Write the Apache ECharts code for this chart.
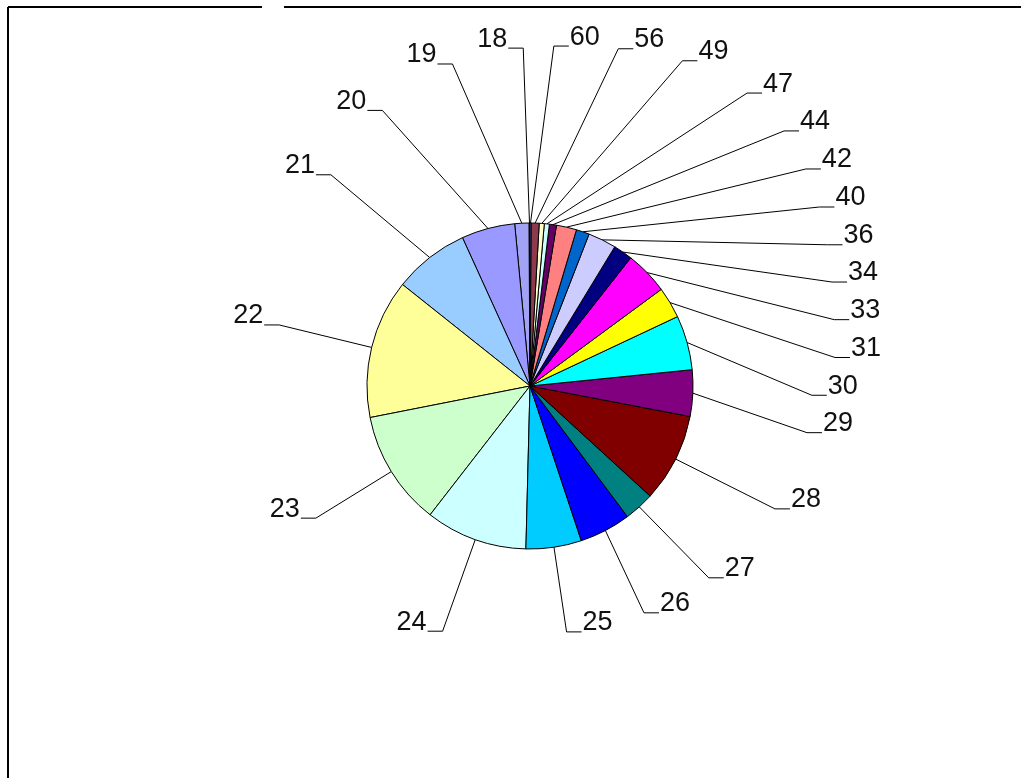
<!DOCTYPE html>
<html>
<head>
<meta charset="utf-8">
<script src="https://cdn.jsdelivr.net/npm/echarts@6/dist/echarts.min.js"></script>
<style>
  html, body { margin: 0; padding: 0; background: #fff; }
  #chart { width: 1021px; height: 778px; }
</style>
</head>
<body>
<div id="chart"></div>
<script>
// Categories (ages) in data order; drawn counter-clockwise from 12 o'clock
var categories = ['18','19','20','21','22','23','24','25','26','27','28','29','30','31','33','34','36','40','42','44','47','49','56','60'];
// Share of each category (%)
var values = [0.1, 1.4, 5.3, 7.5, 13.8, 11.4, 10.1, 5.5, 5.1, 3.0, 8.8, 4.6, 5.4, 3.1, 4.3, 1.9, 2.8, 1.3, 2.0, 0.7, 0.5, 0.5, 0.8, 0.1];
// Slice colours
var colors = ['#993366','#A3A3F5','#9999FF','#99CCFF','#FFFF99','#CCFFCC','#CCFFFF','#00CCFF','#0000FF','#008080','#800000','#800080','#00FFFF','#FFFF00','#FF00FF','#000080','#CCCCFF','#0066CC','#FF8080','#660066','#CCFFFF','#FFFFCC','#8E3A4E','#9999FF'];

// ---- pie geometry (layout settings) ----
var CX = 530, CY = 386, R = 163;
var FONT = 27, FONT_FAMILY = '"Liberation Sans", Arial, sans-serif';
var LEN2 = 15;

var ctx = document.createElement('canvas').getContext('2d');
ctx.font = FONT + 'px ' + FONT_FAMILY;
function textW(s) { return ctx.measureText(s).width; }

// label boundary: per quadrant semi-axes and exponent (superellipse)
function boundary(phi) {
  var s = Math.sin(phi), c = -Math.cos(phi);
  var a, b, n;
  if (s >= 0 && c < 0) { a = 305; b = 340; n = 3; }       // upper right
  else if (s >= 0) { a = 282; b = 248; n = 2; }           // lower right
  else if (c >= 0) { a = 248; b = 262; n = 2; }           // lower left
  else { a = 255; b = 338; n = 2; }                       // upper left
  var t = Math.pow(Math.pow(Math.abs(s / a), n) + Math.pow(Math.abs(c / b), n), -1 / n);
  return [CX + t * s, CY + t * c];
}

// mid angle of each slice, clockwise from 12 o'clock (radians, -pi..pi)
var total = values.reduce(function (a, b) { return a + b; }, 0);
var mids = [], cum = 0;
values.forEach(function (v) {
  var deg = -(cum + v / 2) * 360 / total;
  if (deg <= -180) deg += 360;
  mids.push(deg * Math.PI / 180);
  cum += v;
});

// spread labels along the boundary so that they do not collide
var side = mids.map(function (m) { return m >= 0 ? 1 : -1; });
var ang = mids.slice();
function box(i) {
  var p = boundary(ang[i]);
  var w = textW(categories[i]);
  var padx = side[i] > 0 ? 17 : 20;
  var halfh = side[i] > 0 ? 18.6 : 32;
  var x0 = side[i] > 0 ? p[0] + LEN2 : p[0] - LEN2 - w;
  return { x0: x0 - padx, x1: x0 + w + padx, y0: p[1] - 9 - halfh, y1: p[1] - 9 + halfh };
}
function overlap(a, b) { return a.x0 < b.x1 && b.x0 < a.x1 && a.y0 < b.y1 && b.y0 < a.y1; }
[1, -1].forEach(function (sd) {
  var idx = [];
  for (var i = 0; i < ang.length; i++) if (side[i] === sd) idx.push(i);
  idx.sort(function (p, q) { return ang[p] - ang[q]; });
  var step = 0.003;
  for (var it = 0; it < 5000; it++) {
    var moved = false;
    for (var k = 0; k < idx.length - 1; k++) {
      var i1 = idx[k], i2 = idx[k + 1];
      if (overlap(box(i1), box(i2))) {
        ang[i1] -= step; ang[i2] += step; moved = true;
      }
    }
    idx.forEach(function (i) {
      if (sd > 0) ang[i] = Math.min(Math.max(ang[i], 0.07), Math.PI - 0.01);
      else ang[i] = Math.max(Math.min(ang[i], -0.02), -Math.PI + 0.01);
    });
    if (!moved) break;
  }
});

var chart = echarts.init(document.getElementById('chart'));
var data = categories.map(function (c, i) {
  return { name: c, value: values[i], itemStyle: { color: colors[i] } };
});

chart.setOption({
  backgroundColor: '#ffffff',
  animation: false,
  graphic: [
    { type: 'line', shape: { x1: 8, y1: 7, x2: 262, y2: 7 }, style: { stroke: '#000', lineWidth: 2 } },
    { type: 'line', shape: { x1: 284, y1: 7, x2: 1021, y2: 7 }, style: { stroke: '#000', lineWidth: 2 } },
    { type: 'line', shape: { x1: 8, y1: 7, x2: 8, y2: 778 }, style: { stroke: '#000', lineWidth: 2 } }
  ],
  series: [{
    type: 'pie',
    center: [CX, CY],
    radius: R,
    startAngle: 90,
    clockwise: false,
    avoidLabelOverlap: false,
    data: data,
    itemStyle: { borderColor: '#000', borderWidth: 1 },
    label: {
      show: true,
      position: 'outside',
      formatter: '{b}',
      fontFamily: FONT_FAMILY,
      fontSize: FONT,
      color: '#111'
    },
    labelLine: {
      show: true,
      length: 60,
      length2: LEN2,
      lineStyle: { color: '#000', width: 1 }
    },
    labelLayout: function (params) {
      var i = params.dataIndex;
      var p = boundary(ang[i]);
      var e = [CX + R * Math.sin(mids[i]), CY - R * Math.cos(mids[i])];
      var endX = p[0] + side[i] * LEN2;
      return {
        x: endX + side[i] * 1,
        y: p[1] - 9,
        align: side[i] > 0 ? 'left' : 'right',
        verticalAlign: 'middle',
        labelLinePoints: [e, p, [endX, p[1]]]
      };
    },
    emphasis: { disabled: true }
  }]
});
</script>
</body>
</html>
